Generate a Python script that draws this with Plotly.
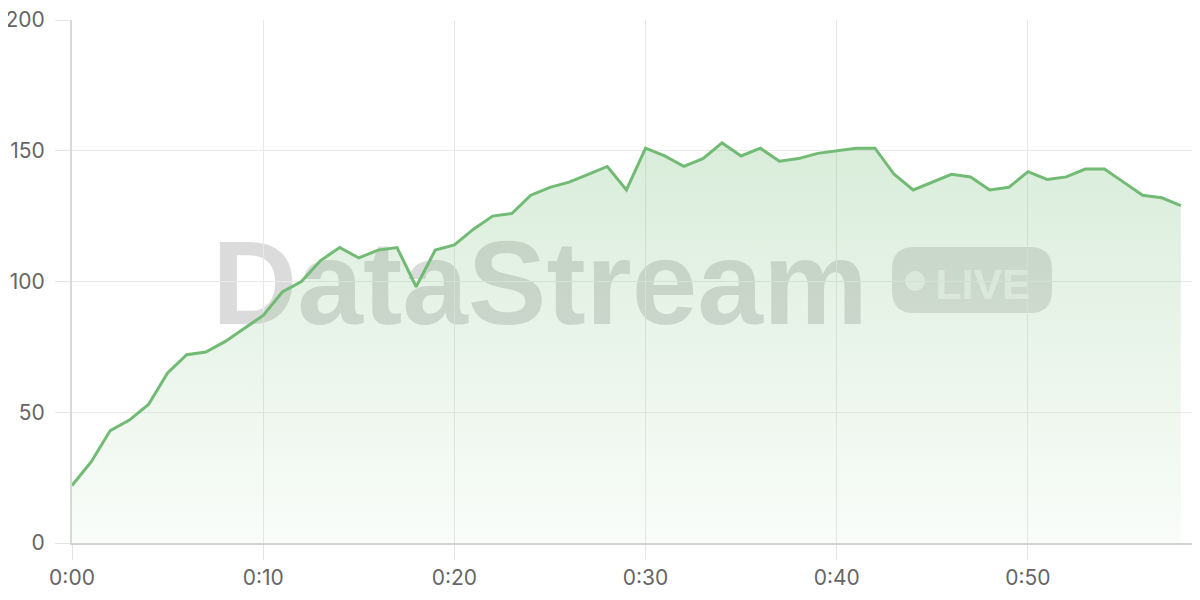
import plotly.graph_objects as go

minutes = list(range(59))
values = [22, 31, 43, 47, 53, 65, 72, 73, 77, 82, 87, 96, 100, 108, 113, 109, 112, 113, 98, 112,
          114, 120, 125, 126, 133, 136, 138, 141, 144, 135, 151, 148, 144, 147, 153, 148, 151, 146, 147, 149,
          150, 151, 151, 141, 135, 138, 141, 140, 135, 136, 142, 139, 140, 143, 143, 138, 133, 132, 129]
tick_vals = [0, 10, 20, 30, 40, 50]
tick_text = ["0:00", "0:10", "0:20", "0:30", "0:40", "0:50"]
y_ticks = [0, 50, 100, 150, 200]

# page has an 8px body margin; figure is sized so the plot area lands where intended
W, H = 1192, 592
ML, MR, MT, MB = 64, 0, 12, 57

# screenshot-pixel -> paper helpers (plot area spans x 72..1200, y 20..543 on screen)
def px(x):
    return (x - 72) / 1128


def py(y):
    return (543 - y) / 523


line_color = "#72bb75"
fig = go.Figure()
fig.add_trace(go.Scatter(
    x=minutes, y=values, mode="lines",
    line=dict(color=line_color, width=3),
    fill="tozeroy",
    fillgradient=dict(type="vertical",
                      colorscale=[[0, "rgba(114,187,117,0.04)"], [1, "rgba(114,187,117,0.27)"]]),
    hoverinfo="skip",
))

# watermark
shapes = []
shapes.append(dict(type="rect", xref="paper", yref="paper",
                   x0=px(200), x1=px(880), y0=py(322), y1=py(222),
                   line=dict(width=0), fillcolor="rgba(0,0,0,0)", layer="between",
                   label=dict(text="DataStream", textposition="middle center",
                              font=dict(family="Liberation Sans", size=118, weight="bold",
                                        color="rgba(0,0,0,0.14)"))))
x0, x1, y0, y1, r = 892, 1052, 247, 313, 22


def P(x, y):
    return f"{px(x):.5f},{py(y):.5f}"


path = (f"M {P(x0 + r, y0)} L {P(x1 - r, y0)} Q {P(x1, y0)} {P(x1, y0 + r)} "
        f"L {P(x1, y1 - r)} Q {P(x1, y1)} {P(x1 - r, y1)} L {P(x0 + r, y1)} "
        f"Q {P(x0, y1)} {P(x0, y1 - r)} L {P(x0, y0 + r)} Q {P(x0, y0)} {P(x0 + r, y0)} Z")
shapes.append(dict(type="path", xref="paper", yref="paper", path=path,
                   line=dict(width=0), fillcolor="rgba(0,0,0,0.12)", layer="between"))
shapes.append(dict(type="circle", xref="paper", yref="paper",
                   x0=px(905), x1=px(925), y0=py(291), y1=py(271),
                   line=dict(width=0), fillcolor="rgba(255,255,255,0.6)", layer="between"))
shapes.append(dict(type="rect", xref="paper", yref="paper",
                   x0=px(934), x1=px(1032), y0=py(305), y1=py(255),
                   line=dict(width=0), fillcolor="rgba(0,0,0,0)", layer="between",
                   label=dict(text="LIVE", textposition="middle center",
                              font=dict(family="Liberation Sans", size=43, weight="bold",
                                        color="rgba(255,255,255,0.6)"))))

font_fam = "Inter, Liberation Sans, sans-serif"
fig.update_layout(
    width=W, height=H,
    margin=dict(l=ML, r=MR, t=MT, b=MB, autoexpand=False),
    plot_bgcolor="white", paper_bgcolor="white",
    showlegend=False,
    shapes=shapes,
    font=dict(family=font_fam, size=21, color="#666666"),
    xaxis=dict(range=[0, 59], tickvals=tick_vals, ticktext=tick_text,
               showgrid=True, gridcolor="#e8e8e8", gridwidth=1,
               zeroline=False, showline=True, linecolor="#d2d2d2", linewidth=2,
               ticks="outside", ticklen=15, tickcolor="#e4e4e4", tickwidth=1,
               ticklabeloverflow="allow",
               tickfont=dict(size=21, color="#666666"), fixedrange=True),
    yaxis=dict(range=[0, 200], tickvals=y_ticks,
               showgrid=True, gridcolor="#eaeaea", gridwidth=1,
               zeroline=False, showline=True, linecolor="#d8d8d8", linewidth=2,
               ticks="outside", ticklen=15, tickcolor="#e4e4e4", tickwidth=1,
               ticklabelstandoff=6, ticklabeloverflow="allow",
               tickfont=dict(size=21, color="#666666"), fixedrange=True),
)

fig.write_html("out.html")
